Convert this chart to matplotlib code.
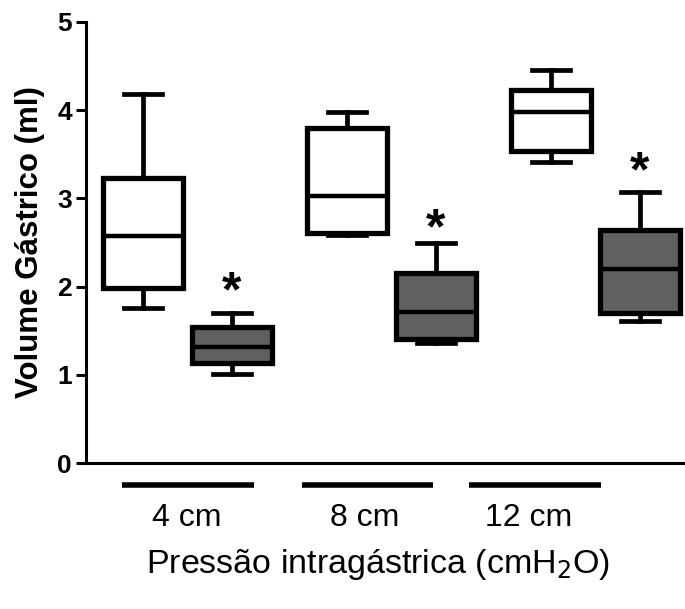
import matplotlib
matplotlib.use('agg')
import matplotlib.pyplot as plt
import matplotlib.transforms as mtrans

plt.rcParams['font.family'] = ['Liberation Sans', 'DejaVu Sans']

# Data: min, q1, median, q3, max
groups = ["4 cm", "8 cm", "12 cm"]
white_lo = [1.76, 2.58, 3.41]
white_q1 = [1.98, 2.61, 3.54]
white_med = [2.57, 3.03, 3.98]
white_q3 = [3.23, 3.80, 4.23]
white_hi = [4.18, 3.98, 4.46]

gray_lo = [1.01, 1.36, 1.61]
gray_q1 = [1.13, 1.41, 1.70]
gray_med = [1.32, 1.71, 2.20]
gray_q3 = [1.54, 2.15, 2.64]
gray_hi = [1.70, 2.50, 3.07]

star_y = [1.92, 2.64, 3.28]

# Figure
fig = plt.figure(figsize=(6.85, 6.09), dpi=100)
ax = fig.add_axes([0.1255, 0.2397, 0.8745, 0.7242])

def make_stats(lo, q1, med, q3, hi):
    return [dict(whislo=a, q1=b, med=c, q3=d, whishi=e, fliers=[])
            for a, b, c, d, e in zip(lo, q1, med, q3, hi)]

gap = 0.436
wpos = [0, 1, 2]
gpos = [p + gap for p in wpos]

common = dict(widths=0.39, capwidths=0.186, patch_artist=True, showfliers=False,
              whiskerprops=dict(color='black', linewidth=3.4),
              capprops=dict(color='black', linewidth=3.4),
              medianprops=dict(color='black', linewidth=3.2))

ax.bxp(make_stats(white_lo, white_q1, white_med, white_q3, white_hi), positions=wpos,
       boxprops=dict(facecolor='white', edgecolor='black', linewidth=3.8), **common)
ax.bxp(make_stats(gray_lo, gray_q1, gray_med, gray_q3, gray_hi), positions=gpos,
       boxprops=dict(facecolor='#606060', edgecolor='black', linewidth=3.8), **common)

for x, y in zip(gpos, star_y):
    ax.text(x, y, "*", ha='center', va='center', fontsize=36, fontweight='bold')

ax.set_xlim(-0.279, 2.657)
ax.set_ylim(0, 5)
ax.set_yticks([0, 1, 2, 3, 4, 5])
ax.set_yticklabels(["0", "1", "2", "3", "4", "5"], fontsize=19, fontweight='bold')
ax.set_xticks([])
ax.tick_params(axis='y', length=7, width=2.2, pad=3)
ax.spines['top'].set_visible(False)
ax.spines['right'].set_visible(False)
ax.spines['left'].set_linewidth(2.2)
ax.spines['bottom'].set_linewidth(2.2)
ax.text(-0.0935, 0.5, "Volume Gástrico (ml)", transform=ax.transAxes, rotation=90,
        ha='center', va='center', fontsize=22.5, fontweight='bold')

# group bars and labels under the axis
trans = mtrans.blended_transform_factory(ax.transData, ax.transAxes)
bar_x = [(-0.103, 0.544), (0.779, 1.42), (1.598, 2.245)]
label_x = [0.216, 1.088, 1.892]
for (x0, x1), lx, name in zip(bar_x, label_x, groups):
    ax.plot([x0, x1], [-0.05, -0.05], color='black', linewidth=4, transform=trans,
            clip_on=False, solid_capstyle='butt')
    ax.text(lx, -0.125, name, transform=trans, ha='center', va='center', fontsize=23)

ax.text(1.155, -0.23, "Pressão intragástrica (cmH$_2$O)", transform=trans,
        ha='center', va='center', fontsize=24.5)

fig.savefig("out.png", dpi=100)
